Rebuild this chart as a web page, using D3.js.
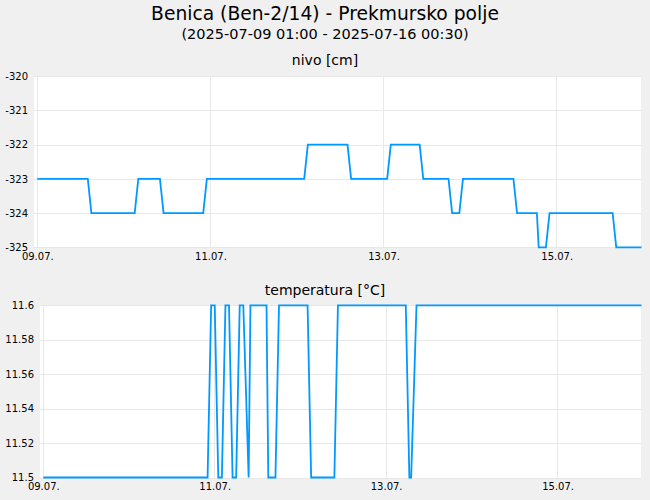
<!DOCTYPE html>
<html>
<head>
<meta charset="utf-8">
<script src="https://cdn.jsdelivr.net/npm/d3@7"></script>
<style>
    body { margin: 0; background: #f0f0f0; }
    svg { display: block; font-family: "DejaVu Sans", sans-serif; }
</style>
</head>
<body>
<div class="svg_container"></div>
<script>
// Chart data (30 min readings, only the points where the value changes)
var levelTimes = ["2025-07-09 01:00", "2025-07-09 15:00", "2025-07-09 16:00", "2025-07-10 04:00", "2025-07-10 05:00",
    "2025-07-10 11:00", "2025-07-10 12:00", "2025-07-10 23:00", "2025-07-11 00:00", "2025-07-12 03:00",
    "2025-07-12 04:00", "2025-07-12 15:00", "2025-07-12 16:00", "2025-07-13 02:00", "2025-07-13 03:00",
    "2025-07-13 11:00", "2025-07-13 12:00", "2025-07-13 19:00", "2025-07-13 20:00", "2025-07-13 22:00",
    "2025-07-13 23:00", "2025-07-14 13:00", "2025-07-14 14:00", "2025-07-14 19:30", "2025-07-14 20:00",
    "2025-07-14 22:00", "2025-07-14 23:00", "2025-07-15 16:30", "2025-07-15 17:30", "2025-07-16 00:30"];
var levelValues = [-323, -323, -324, -324, -323,
    -323, -324, -324, -323, -323,
    -322, -322, -323, -323, -322,
    -322, -323, -323, -324, -324,
    -323, -323, -324, -324, -325,
    -325, -324, -324, -325, -325];

var tempTimes = ["2025-07-09 01:00", "2025-07-10 23:00", "2025-07-11 00:00", "2025-07-11 01:00", "2025-07-11 02:00",
    "2025-07-11 03:00", "2025-07-11 04:00", "2025-07-11 05:00", "2025-07-11 06:00", "2025-07-11 07:00",
    "2025-07-11 08:00", "2025-07-11 09:00", "2025-07-11 10:30", "2025-07-11 11:00", "2025-07-11 15:30",
    "2025-07-11 16:00", "2025-07-11 18:00", "2025-07-11 19:00", "2025-07-12 03:00", "2025-07-12 04:00",
    "2025-07-12 10:30", "2025-07-12 11:30", "2025-07-13 06:30", "2025-07-13 07:30", "2025-07-13 08:00",
    "2025-07-13 09:30", "2025-07-16 00:30"];
var tempValues = [11.5, 11.5, 11.6, 11.6, 11.5,
    11.5, 11.6, 11.6, 11.5, 11.5,
    11.6, 11.6, 11.5, 11.6, 11.6,
    11.5, 11.5, 11.6, 11.6, 11.5,
    11.5, 11.6, 11.6, 11.5, 11.5,
    11.6, 11.6];

var levelTicks = [-320, -321, -322, -323, -324, -325];
var tempTicks = [11.5, 11.52, 11.54, 11.56, 11.58, 11.6];
var dateTicks = ["2025-07-09 01:00", "2025-07-11 01:00", "2025-07-13 01:00", "2025-07-15 01:00"];

var W_WIDTH = 650, W_HEIGHT = 500;
var LINE_COLOR = "#0099ff";
var GRID_COLOR = "#e8e8e8";

var parseTime = d3.timeParse("%Y-%m-%d %H:%M");
var formatDay = d3.timeFormat("%d.%m.");

var svg = d3.select("div.svg_container")
    .append("svg")
        .attr("width", W_WIDTH)
        .attr("height", W_HEIGHT);

svg.append("rect")
    .attr("width", W_WIDTH)
    .attr("height", W_HEIGHT)
    .attr("fill", "#f0f0f0");

// Titles
svg.append("text")
    .attr("x", 325).attr("y", 20)
    .attr("text-anchor", "middle")
    .style("font-size", "18.7px")
    .text("Benica (Ben-2/14) - Prekmursko polje");
svg.append("text")
    .attr("x", 325).attr("y", 39)
    .attr("text-anchor", "middle")
    .style("font-size", "14.5px")
    .text("(2025-07-09 01:00 - 2025-07-16 00:30)");

// Draw one panel (white plot area, grid, ticks, line)
function draw_panel(p){
    var data = p.times.map(function(t, i) { return {t: parseTime(t), v: p.values[i]}; });

    var x = d3.scaleTime()
        .domain([parseTime(p.times[0]), parseTime(p.times[p.times.length - 1])])
        .range([p.x0, p.x1]);
    var y = d3.scaleLinear()
        .domain([p.ticks[0], p.ticks[p.ticks.length - 1]])
        .range([p.y1, p.y0]);
    if (p.ticks[0] > p.ticks[p.ticks.length - 1]) y.range([p.y0, p.y1]);

    svg.append("text")
        .attr("x", 325).attr("y", p.titleY)
        .attr("text-anchor", "middle")
        .style("font-size", "14px")
        .text(p.title);

    svg.append("rect")
        .attr("x", p.left).attr("y", p.top)
        .attr("width", p.right - p.left)
        .attr("height", p.bottom - p.top)
        .attr("fill", "#ffffff");

    var g = svg.append("g");

    // Horizontal grid + y labels
    var yAxis = d3.axisLeft(y)
        .tickValues(p.ticks)
        .tickSize(-(p.right - p.left))
        .tickPadding(6)
        .tickFormat(function(d) { return String(d); });
    g.append("g")
        .attr("transform", "translate(" + p.left + ",0)")
        .call(yAxis)
        .call(function(a) {
            a.select(".domain").remove();
            a.selectAll("line").attr("stroke", GRID_COLOR).attr("shape-rendering", "crispEdges");
            a.selectAll("text").attr("fill", "#000").style("font-size", "10px").attr("font-family", "DejaVu Sans");
        });

    // Vertical grid + date labels
    var xTicks = dateTicks.map(parseTime);
    g.selectAll("line.vgrid")
        .data(xTicks)
        .enter()
        .append("line")
            .attr("class", "vgrid")
            .attr("x1", function(d) { return x(d); })
            .attr("x2", function(d) { return x(d); })
            .attr("y1", p.top)
            .attr("y2", p.bottom)
            .attr("stroke", GRID_COLOR)
            .attr("shape-rendering", "crispEdges");
    var xAxis = d3.axisBottom(x)
        .tickValues(xTicks)
        .tickSize(0)
        .tickPadding(5)
        .tickFormat(formatDay);
    g.append("g")
        .attr("transform", "translate(0," + p.bottom + ")")
        .call(xAxis)
        .call(function(a) {
            a.select(".domain").remove();
            a.selectAll("text").attr("fill", "#000").style("font-size", "10px").attr("font-family", "DejaVu Sans");
        });

    var line = d3.line()
        .x(function(d) { return x(d.t); })
        .y(function(d) { return y(d.v); });

    g.append("path")
        .datum(data)
        .attr("d", line)
        .attr("fill", "none")
        .attr("stroke", LINE_COLOR)
        .attr("stroke-width", 1.8)
        .attr("stroke-linejoin", "miter");
}

draw_panel({
    title: "nivo [cm]", titleY: 65,
    times: levelTimes, values: levelValues, ticks: levelTicks,
    left: 34, right: 641, top: 76, bottom: 248,
    x0: 37.3, x1: 641.5, y0: 76.2, y1: 247.4
});

draw_panel({
    title: "temperatura [°C]", titleY: 295,
    times: tempTimes, values: tempValues, ticks: tempTicks,
    left: 40, right: 641, top: 306, bottom: 478,
    x0: 43.3, x1: 641.5, y0: 305.3, y1: 477.5
});
</script>
</body>
</html>
